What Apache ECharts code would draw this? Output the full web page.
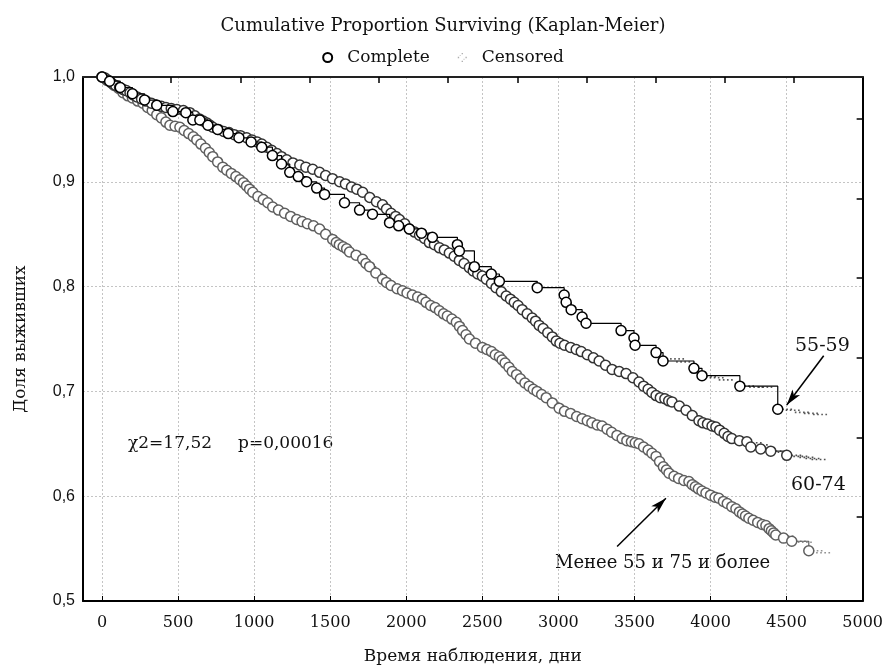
<!DOCTYPE html>
<html>
<head>
<meta charset="utf-8">
<script src="https://cdn.jsdelivr.net/npm/echarts@6/dist/echarts.min.js"></script>
<style>
  html, body { margin: 0; padding: 0; background: #fff; }
  #chart { width: 886px; height: 670px; }
</style>
</head>
<body>
<div id="chart"></div>
<script>
// Kaplan-Meier survival estimates by age group: [days, cumulative proportion surviving]
const groupOther = [ // Менее 55 и 75 и более
  [0,1.000],[15,0.999],[30,0.997],[55,0.995],[80,0.992],[110,0.989],[138,0.985],[170,0.982],
  [200,0.980],[235,0.977],[269,0.975],[300,0.971],[330,0.968],[360,0.964],[390,0.961],[420,0.957],
  [446,0.954],[480,0.953],[512,0.952],[540,0.949],[570,0.946],[600,0.943],[623,0.940],[650,0.936],
  [680,0.932],[705,0.928],[728,0.924],[760,0.919],[794,0.914],[820,0.911],[850,0.908],[880,0.905],
  [906,0.902],[930,0.899],[950,0.896],[970,0.893],[991,0.890],[1025,0.886],[1060,0.883],[1090,0.880],
  [1122,0.876],[1160,0.873],[1200,0.870],[1240,0.867],[1280,0.864],[1315,0.862],[1350,0.860],[1390,0.858],
  [1430,0.855],[1470,0.850],[1516,0.845],[1540,0.842],[1560,0.840],[1585,0.838],[1608,0.836],[1627,0.833],
  [1670,0.830],[1713,0.826],[1735,0.822],[1759,0.819],[1800,0.813],[1844,0.807],[1870,0.804],[1900,0.801],
  [1940,0.798],[1975,0.796],[2005,0.794],[2040,0.792],[2075,0.790],[2106,0.788],[2130,0.785],[2160,0.782],
  [2190,0.780],[2218,0.777],[2245,0.774],[2270,0.772],[2300,0.769],[2329,0.766],[2350,0.762],[2370,0.758],
  [2393,0.754],[2415,0.750],[2455,0.746],[2500,0.742],[2530,0.740],[2560,0.738],[2585,0.735],[2612,0.733],
  [2630,0.730],[2650,0.727],[2675,0.723],[2697,0.719],[2725,0.716],[2750,0.712],[2780,0.708],[2808,0.705],
  [2835,0.702],[2860,0.700],[2890,0.697],[2920,0.694],[2960,0.689],[3005,0.684],[3040,0.681],[3080,0.679],
  [3120,0.676],[3156,0.674],[3190,0.672],[3220,0.670],[3255,0.668],[3287,0.667],[3320,0.664],[3350,0.661],
  [3385,0.658],[3419,0.655],[3450,0.653],[3480,0.652],[3505,0.651],[3530,0.650],[3560,0.647],[3590,0.644],
  [3615,0.641],[3642,0.638],[3665,0.633],[3690,0.628],[3710,0.625],[3727,0.622],[3760,0.619],[3790,0.617],
  [3825,0.615],[3858,0.614],[3880,0.611],[3900,0.609],[3920,0.607],[3944,0.605],[3970,0.603],[4000,0.601],
  [4030,0.599],[4055,0.598],[4085,0.595],[4110,0.593],[4140,0.590],[4167,0.588],[4190,0.585],[4210,0.583],
  [4230,0.581],[4252,0.579],[4280,0.577],[4310,0.575],[4340,0.573],[4364,0.572],[4385,0.569],[4400,0.567],
  [4415,0.565],[4429,0.563],[4480,0.560],[4534,0.557],[4646,0.548]
];
const group6074 = [ // 60-74
  [0,1.000],[20,0.999],[40,0.997],[65,0.994],[90,0.992],[115,0.990],[140,0.988],[160,0.987],
  [184,0.985],[205,0.983],[230,0.981],[260,0.979],[290,0.977],[325,0.975],[361,0.973],[390,0.972],
  [420,0.971],[455,0.970],[492,0.969],[535,0.968],[577,0.966],[610,0.963],[640,0.960],[665,0.958],
  [690,0.956],[710,0.954],[728,0.952],[765,0.950],[800,0.948],[835,0.947],[870,0.945],[910,0.944],
  [951,0.942],[985,0.940],[1020,0.938],[1050,0.936],[1083,0.933],[1115,0.930],[1150,0.927],[1180,0.924],
  [1214,0.921],[1255,0.918],[1300,0.916],[1340,0.914],[1385,0.912],[1430,0.909],[1470,0.906],[1515,0.903],
  [1562,0.900],[1600,0.898],[1640,0.895],[1675,0.893],[1713,0.890],[1760,0.885],[1804,0.881],[1844,0.878],
  [1870,0.874],[1900,0.870],[1930,0.867],[1955,0.864],[1990,0.860],[2021,0.855],[2055,0.852],[2087,0.849],
  [2120,0.846],[2152,0.842],[2185,0.840],[2218,0.837],[2250,0.835],[2283,0.832],[2315,0.829],[2349,0.825],
  [2380,0.822],[2415,0.818],[2440,0.815],[2470,0.812],[2500,0.810],[2526,0.807],[2560,0.803],[2590,0.799],
  [2625,0.795],[2657,0.791],[2685,0.788],[2710,0.785],[2735,0.782],[2762,0.778],[2795,0.774],[2828,0.770],
  [2850,0.767],[2874,0.763],[2900,0.760],[2930,0.756],[2960,0.752],[2986,0.748],[3010,0.746],[3040,0.744],
  [3080,0.742],[3117,0.740],[3150,0.738],[3190,0.735],[3230,0.732],[3268,0.729],[3310,0.725],[3353,0.721],
  [3400,0.719],[3445,0.717],[3490,0.713],[3530,0.709],[3560,0.705],[3590,0.702],[3615,0.699],[3642,0.696],
  [3670,0.694],[3700,0.693],[3725,0.691],[3747,0.690],[3795,0.686],[3839,0.682],[3880,0.677],[3924,0.672],
  [3950,0.670],[3980,0.669],[4010,0.667],[4035,0.666],[4060,0.663],[4090,0.660],[4115,0.657],[4140,0.655],
  [4190,0.653],[4239,0.652],[4265,0.647],[4330,0.645],[4396,0.643],[4501,0.639]
];
const group5559 = [ // 55-59
  [0,1.000],[50,0.996],[120,0.990],[200,0.984],[280,0.978],[360,0.973],[466,0.967],[551,0.966],
  [597,0.959],[643,0.959],[696,0.954],[760,0.950],[830,0.946],[900,0.942],[980,0.938],[1050,0.933],
  [1120,0.925],[1180,0.917],[1234,0.909],[1290,0.905],[1345,0.900],[1411,0.894],[1463,0.888],[1594,0.880],
  [1693,0.873],[1778,0.869],[1890,0.861],[1950,0.858],[2020,0.855],[2100,0.851],[2172,0.847],[2336,0.840],
  [2349,0.834],[2448,0.819],[2559,0.812],[2612,0.805],[2861,0.799],[3038,0.792],[3051,0.785],[3084,0.778],
  [3156,0.771],[3182,0.765],[3412,0.758],[3497,0.751],[3504,0.744],[3642,0.737],[3688,0.729],[3891,0.722],
  [3944,0.715],[4193,0.705],[4442,0.683]
];

// Censored observations
const censOther = [[4460,0.563],[4500,0.562],[4580,0.557],[4620,0.556],[4690,0.548],[4740,0.546]];
const cens6074 = [[4290,0.651],[4330,0.649],[4420,0.643],[4460,0.642],[4550,0.639],[4590,0.638],[4630,0.637],[4670,0.636],[4710,0.635]];
const cens5559 = [[3780,0.731],[3820,0.728],[3990,0.714],[4040,0.713],[4100,0.711],[4240,0.705],[4300,0.704],[4360,0.704],
  [4490,0.683],[4540,0.682],[4600,0.680],[4660,0.679],[4720,0.678]];

// Axis ticks
const xTicks = [0,500,1000,1500,2000,2500,3000,3500,4000,4500,5000];
const xTopTicks = [455,910,1365,1820,2275,2730,3185,3640,4095,4550];
const yRightTicks = [0.580,0.656,0.732,0.808,0.884,0.960];

const serif = '"DejaVu Serif", "Liberation Serif", serif';
const dotsPath = 'path://M0,0h1.2v1.2h-1.2z M3,0h1.2v1.2h-1.2z M6,0h1.2v1.2h-1.2z M9,0h1.2v1.2h-1.2z';
const legendCensPath = 'path://M4,0h1.4v1.4h-1.4z M0,4h1.4v1.4h-1.4z M8,4h1.4v1.4h-1.4z M4,8h1.4v1.4h-1.4z M2,2h1v1h-1z M6,6h1v1h-1z';

function kmSeries(name, data, stroke, lineColor, z) {
  return {
    name: name, type: 'line', step: 'end', data: data,
    xAxisIndex: 0, yAxisIndex: 0, z: z,
    symbol: 'circle', symbolSize: 10, showAllSymbol: true,
    lineStyle: { color: lineColor, width: 1.2 },
    itemStyle: { color: '#ffffff', borderColor: stroke, borderWidth: 1.5 },
    emphasis: { disabled: true },
    animation: false
  };
}
function censSeries(data, color, z) {
  return {
    type: 'scatter', data: data, z: z, xAxisIndex: 0, yAxisIndex: 0,
    symbol: dotsPath, symbolSize: [14, 1.6],
    itemStyle: { color: color },
    emphasis: { disabled: true }, animation: false
  };
}

const chart = echarts.init(document.getElementById('chart'), null, { renderer: 'canvas' });
chart.setOption({
  backgroundColor: '#ffffff',
  animation: false,
  title: {
    text: 'Cumulative Proportion Surviving (Kaplan-Meier)',
    left: 'center', top: 12,
    textStyle: { fontFamily: serif, fontSize: 18, fontWeight: 'normal', color: '#111' }
  },
  legend: {
    top: 44, left: 'center', itemGap: 28, itemWidth: 9, itemHeight: 9,
    textStyle: { fontFamily: serif, fontSize: 17, color: '#111', padding: [0, 0, 0, 10] },
    data: [
      { name: 'Complete', icon: 'circle' },
      { name: 'Censored', icon: legendCensPath, itemStyle: { color: '#999' } }
    ]
  },
  grid: { left: 83, right: 22, top: 77, bottom: 67 },
  xAxis: [
    {
      type: 'value', position: 'bottom', min: -125, max: 5000,
      name: 'Время наблюдения, дни', nameLocation: 'middle', nameGap: 47,
      nameTextStyle: { fontFamily: serif, fontSize: 17, color: '#111' },
      axisLine: { onZero: false, lineStyle: { color: '#000', width: 2 } },
      axisTick: { show: true, inside: true, length: 5, customValues: xTicks, lineStyle: { color: '#000', width: 1 } },
      axisLabel: { customValues: xTicks, margin: 14, fontFamily: serif, fontSize: 16, color: '#111',
        formatter: v => String(v) },
      splitLine: { show: true, lineStyle: { color: '#c4c4c4', type: [2, 2], width: 1 } }
    },
    {
      type: 'value', position: 'top', min: -125, max: 5000,
      axisLine: { onZero: false, lineStyle: { color: '#222', width: 2 } },
      axisTick: { show: true, inside: true, length: 6, customValues: xTopTicks, lineStyle: { color: '#000', width: 1.5 } },
      axisLabel: { show: false },
      splitLine: { show: false }
    }
  ],
  yAxis: [
    {
      type: 'value', position: 'left', min: 0.5, max: 1.0, interval: 0.1,
      name: 'Доля выживших', nameLocation: 'middle', nameGap: 54, nameRotate: 90,
      nameTextStyle: { fontFamily: serif, fontSize: 17, color: '#111' },
      axisLine: { show: true, onZero: false, lineStyle: { color: '#000', width: 2 } },
      axisTick: { show: false },
      axisLabel: {
        margin: 8, fontFamily: '"Liberation Sans", Arial, sans-serif', fontSize: 16, color: '#111',
        formatter: v => v.toFixed(1).replace('.', ',')
      },
      splitLine: { show: true, lineStyle: { color: '#c4c4c4', type: [2, 2], width: 1 } }
    },
    {
      type: 'value', position: 'right', min: 0.5, max: 1.0,
      axisLine: { show: true, onZero: false, lineStyle: { color: '#000', width: 2 } },
      axisTick: { show: true, inside: true, length: 6, customValues: yRightTicks, lineStyle: { color: '#000', width: 1.5 } },
      axisLabel: { show: false },
      splitLine: { show: false }
    }
  ],
  series: [
    { name: 'Complete', type: 'line', data: [], symbol: 'circle',
      itemStyle: { color: '#fff', borderColor: '#000', borderWidth: 1.2 }, lineStyle: { color: '#000' } },
    { name: 'Censored', type: 'scatter', data: [], itemStyle: { color: '#999' } },
    kmSeries('Менее 55 и 75 и более', groupOther, '#5f5f5f', '#5f5f5f', 3),
    kmSeries('60-74', group6074, '#333333', '#333333', 4),
    kmSeries('55-59', group5559, '#000000', '#000000', 5),
    censSeries(censOther, '#777', 2),
    censSeries(cens6074, '#222', 2),
    censSeries(cens5559, '#333', 2),
    {
      // annotation arrows pointing at the group curves
      type: 'line', data: [], z: 6,
      markLine: {
        silent: true, animation: false,
        symbol: ['none', 'arrow'], symbolSize: [7, 16],
        lineStyle: { color: '#000', width: 1.5, type: 'solid' },
        label: { show: false },
        data: [
          [{ coord: [4744, 0.734] }, { coord: [4501, 0.687] }],
          [{ coord: [3386, 0.552] }, { coord: [3707, 0.598] }]
        ]
      }
    }
  ],
  graphic: [
    { type: 'text', left: 128, top: 435, style: { text: 'χ2=17,52', font: '17px ' + serif, fill: '#111' } },
    { type: 'text', left: 238, top: 435, style: { text: 'p=0,00016', font: '17px ' + serif, fill: '#111' } },
    { type: 'text', left: 795, top: 337, style: { text: '55-59', font: '19px ' + serif, fill: '#111' } },
    { type: 'text', left: 791, top: 476, style: { text: '60-74', font: '19px ' + serif, fill: '#111' } },
    { type: 'text', left: 555, top: 554, style: { text: 'Менее 55 и 75 и более', font: '18px ' + serif, fill: '#111' } }
  ]
});
</script>
</body>
</html>
